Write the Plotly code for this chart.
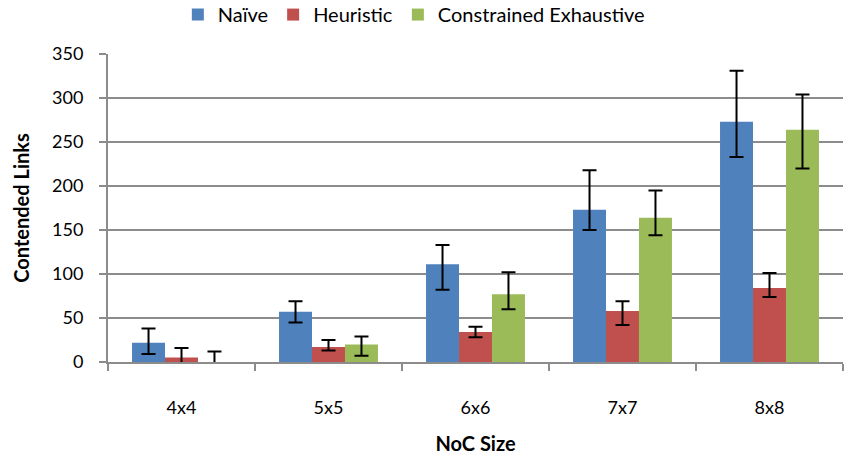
import plotly.graph_objects as go

categories = ["4x4", "5x5", "6x6", "7x7", "8x8"]

naive = [22, 57, 111, 173, 273]
naive_plus = [16, 12, 22, 45, 58]
naive_minus = [13, 12, 29, 23, 40]

heuristic = [5, 17, 34, 58, 84]
heuristic_plus = [11, 8, 6, 11, 17]
heuristic_minus = [10, 4, 6, 16, 10]

constrained = [0, 20, 77, 164, 264]
constrained_plus = [12, 9, 25, 31, 40]
constrained_minus = [12, 13, 17, 20, 44]

series = [
    ("Naïve", naive, naive_plus, naive_minus, "#4F81BD"),
    ("Heuristic", heuristic, heuristic_plus, heuristic_minus, "#C0504D"),
    ("Constrained Exhaustive", constrained, constrained_plus, constrained_minus, "#9BBB59"),
]

font_family = "Lato, 'Open Sans', sans-serif"

fig = go.Figure()
for name, vals, ep, em, color in series:
    fig.add_trace(go.Bar(
        x=categories, y=vals, name=name,
        marker=dict(color=color, line=dict(width=0)),
        error_y=dict(type="data", symmetric=False, array=ep, arrayminus=em,
                     color="black", thickness=2, width=7),
    ))

fig.update_layout(
    width=856, height=462,
    margin=dict(l=108, r=13, t=54, b=100, autoexpand=False),
    paper_bgcolor="white", plot_bgcolor="white",
    barmode="group", bargap=0.327, bargroupgap=0,
    font=dict(family=font_family, size=18, color="black"),
    legend=dict(orientation="h", x=0.095, xanchor="left", y=1.128, yanchor="middle",
                font=dict(size=20), itemwidth=30, traceorder="normal"),
    showlegend=True,
)
fig.update_xaxes(
    showline=True, linecolor="#8c8c8c", linewidth=2,
    ticks="outside", tickson="boundaries", ticklen=7, tickcolor="#8c8c8c", tickwidth=2,
    tickfont=dict(size=18), ticklabelstandoff=28,
    title=dict(text="<b>NoC Size</b>", font=dict(size=20), standoff=20),
    automargin=False,
)
fig.update_yaxes(
    range=[0, 350], dtick=50,
    showline=True, linecolor="#8c8c8c", linewidth=2,
    showgrid=True, gridcolor="#8c8c8c", gridwidth=2,
    ticks="outside", ticklen=7, tickcolor="#8c8c8c", tickwidth=2,
    tickfont=dict(size=18), ticklabelstandoff=12,
    title=dict(text="<b>Contended Links</b>", font=dict(size=20), standoff=17),
    zeroline=False, automargin=False,
)

fig.write_html("out.html")
